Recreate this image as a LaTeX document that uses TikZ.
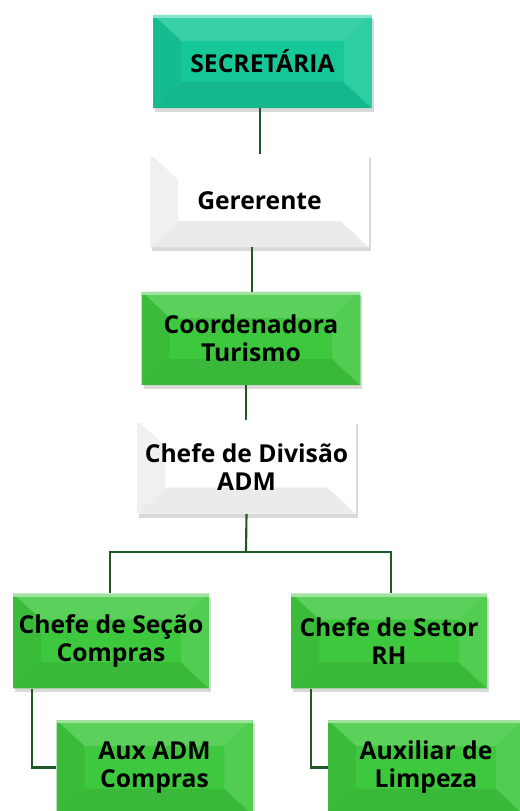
\documentclass[tikz,border=0pt]{standalone}
\usepackage{fontspec}
\setmainfont{Open Sans}
\usetikzlibrary{positioning, calc, shadows}

\definecolor{tealbox}{RGB}{22,200,152}
\definecolor{greenbox}{RGB}{62,200,62}
\definecolor{linegreen}{RGB}{32,88,40}

\tikzset{
  bevel/.style={path picture={
      \coordinate (nw) at (path picture bounding box.north west);
      \coordinate (ne) at (path picture bounding box.north east);
      \coordinate (sw) at (path picture bounding box.south west);
      \coordinate (se) at (path picture bounding box.south east);
      \fill[#1!85!white] (nw) -- (ne) -- ($(ne)+(-28,26)$) -- ($(nw)+(28,26)$) -- cycle;
      \fill[#1!92!black] (sw) -- (se) -- ($(se)+(-28,-26)$) -- ($(sw)+(28,-26)$) -- cycle;
      \fill[#1!94!black] (nw) -- ($(nw)+(28,26)$) -- ($(sw)+(28,-26)$) -- (sw) -- cycle;
      \fill[#1!90!white] (ne) -- ($(ne)+(-28,26)$) -- ($(se)+(-28,-26)$) -- (se) -- cycle;
      \fill[#1!50!white] (nw) rectangle ($(ne)+(0,3)$);
  }}
}

\begin{document}
\begin{tikzpicture}[x=0.75pt, y=-0.75pt,
    box/.style={rectangle, fill=#1, bevel=#1, align=center,
                minimum width=164pt, minimum height=70pt,
                font=\fontsize{18.5}{21}\selectfont\bfseries,
                drop shadow={opacity=0.3, shadow xshift=1.5pt, shadow yshift=-3pt}},
    small/.style={box=#1, minimum width=147pt, minimum height=71pt},
    link/.style={draw=linegreen, line width=1.6pt}
]
    \useasboundingbox (0,0) rectangle (519,811);

    % Top of the chart
    \node[box=tealbox] (sec) at (262.5,61.5) {SECRETÁRIA};
    \node[box=white] (ger) at (259.5,200.5) {Gererente};
    \node[box=greenbox] (coord) at (251,338.5) {Coordenadora\\Turismo};
    \node[box=white] (chefe) at (246.5,467) {Chefe de Divisão\\ADM};

    % Sections
    \node[small=greenbox] (secao) at (111,641) {Chefe de Seção\\Compras};
    \node[small=greenbox] (setor) at (389,641) {Chefe de Setor\\RH};
    \node[small=greenbox] (aux) at (154.5,767.5) {Aux ADM\\Compras};
    \node[small=greenbox] (limpeza) at (426,767.5) {Auxiliar de\\Limpeza};

    % Lines
    \draw[link] ([xshift=-2pt]sec.south) -- ([xshift=-2pt]sec.south |- ger.north);
    \draw[link] ([xshift=-5.5pt]ger.south) -- ([xshift=-5.5pt]ger.south |- coord.north);
    \draw[link] ([xshift=-3.5pt]coord.south) -- ([xshift=-3.5pt]coord.south |- chefe.north);
    \coordinate (bus) at (246,552);
    \draw[link] (chefe.south) -- (bus);
    \draw[link] ([xshift=-0.75pt]secao.north) |- (bus) -| ([xshift=1.5pt]setor.north);
    \draw[link] ($(secao.south west)+(19,0)$) |- (aux.west);
    \draw[link] ($(setor.south west)+(20,0)$) |- (limpeza.west);

\end{tikzpicture}
\end{document}
